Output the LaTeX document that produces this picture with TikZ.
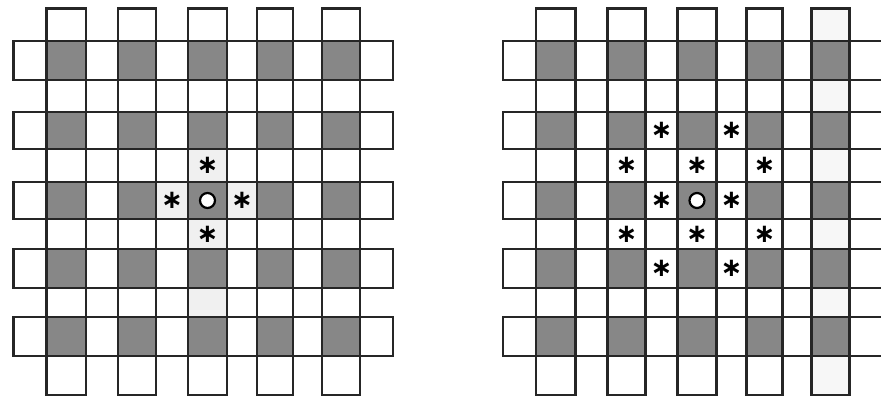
\documentclass[tikz,border=0pt]{standalone}
\usepackage{fontspec}
\newfontfamily\starfont{DejaVu Sans}
\newcommand\cellfill[4]{%
  \pgfmathsetmacro\xa{\XX[#3]+#2}\pgfmathsetmacro\xb{\XX[#3+1]+#2}%
  \pgfmathsetmacro\ya{\YY[#4]}\pgfmathsetmacro\yb{\YY[#4+1]}%
  \fill[#1] (\xa,\ya) rectangle (\xb,\yb);}
\newcommand\cellpt[4]{% name, xoff, i, j
  \pgfmathsetmacro\xa{\XX[#3]}\pgfmathsetmacro\xb{\XX[#3+1]}%
  \pgfmathsetmacro\ya{\YY[#4]}\pgfmathsetmacro\yb{\YY[#4+1]}%
  \pgfmathsetmacro\cx{0.5*\xa+0.5*\xb+#2}%
  \pgfmathsetmacro\cy{0.5*\ya+0.5*\yb}%
  \coordinate (#1) at (\cx,\cy);}
\newcommand\mygrid[2]{% xoff, right end of horizontal strips
  \foreach \i in {1,3,5,7,9}{\foreach \j in {1,3,5,7,9}{\cellfill{crossing}{#1}{\i}{\j}}}
  \foreach \i in {1,3,5,7,9}{%
    \pgfmathsetmacro\xa{\XX[\i]+#1}\pgfmathsetmacro\xb{\XX[\i+1]+#1}%
    \draw[strip] (\xa,8.5) rectangle (\xb,395);}
  \foreach \j in {1,3,5,7,9}{%
    \pgfmathsetmacro\ya{\YY[\j]}\pgfmathsetmacro\yb{\YY[\j+1]}%
    \pgfmathsetmacro\xa{13.5+#1}%
    \draw[strip] (\xa,\ya) rectangle (#2,\yb);}
}
\begin{document}
\begin{tikzpicture}[x=1pt,y=-1pt,
  strip/.style={draw=black!85,line width=2.4pt},
  crossing/.style={fill=black!47},
  faint/.style={fill=black!6},
  faintr/.style={fill=black!3},
  star/.style={inner sep=0pt,font=\starfont\bfseries\fontsize{26}{26}\selectfont},
  hole/.style={circle,draw=black,line width=2.2pt,fill=white,minimum size=15pt,inner sep=0pt}]
\useasboundingbox (0,0) rectangle (881,401);
\def\XX{{13.5,46.5,86,118,156,188,227,257,293,322,360,393}}
\def\YY{{8.5,41,80,112,149,182,219,249,288,317,356,395}}
% faint shading
\cellfill{faint}{0}{5}{4}\cellfill{faint}{0}{5}{6}\cellfill{faint}{0}{4}{5}
\cellfill{faint}{0}{6}{5}\cellfill{faint}{0}{5}{8}
\foreach \j in {0,2,4,6,8,10}{\cellfill{faintr}{489.5}{9}{\j}}
% grids
\mygrid{0}{393}
\mygrid{489.5}{890}
% left marks
\cellpt{cL}{0}{5}{5}
\node[hole] (oL) at (cL) {};
\cellpt{p1}{0}{5}{4}\node[star] (sL1) at (p1) {∗};
\cellpt{p2}{0}{4}{5}\node[star] (sL2) at (p2) {∗};
\cellpt{p3}{0}{6}{5}\node[star] (sL3) at (p3) {∗};
\cellpt{p4}{0}{5}{6}\node[star] (sL4) at (p4) {∗};
% right marks
\cellpt{cR}{489.5}{5}{5}
\node[hole] (oR) at (cR) {};
\foreach \i/\j [count=\k] in {4/3,6/3,3/4,5/4,7/4,4/5,6/5,3/6,5/6,7/6,4/7,6/7}{
  \cellpt{q\k}{489.5}{\i}{\j}\node[star] (sR\k) at (q\k) {∗};}
\end{tikzpicture}
\end{document}
